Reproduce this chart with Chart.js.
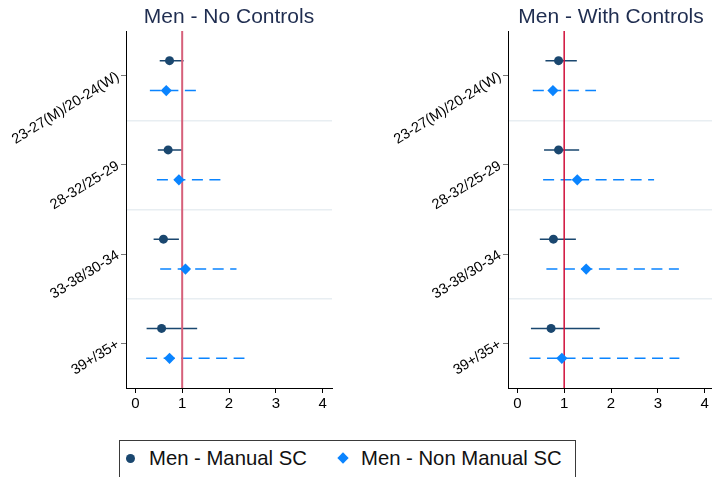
<!DOCTYPE html>
<html>
<head>
<meta charset="utf-8">
<script src="https://cdn.jsdelivr.net/npm/chart.js@4/dist/chart.umd.min.js"></script>
<style>
  html, body { margin: 0; padding: 0; background: #fff; }
  body { width: 712px; height: 477px; overflow: hidden; position: relative; font-family: 'Liberation Sans', Arial, sans-serif; }
  .panel { position: absolute; top: 0; width: 340px; height: 420px; }
  #legend { position: absolute; left: 119px; top: 440px; width: 457px; height: 40px; border: 1px solid #3a3a3a; box-sizing: border-box; background: #fff; }
  #legend .txt { position: absolute; top: 5px; font-size: 20.3px; line-height: 24px; color: #111; white-space: nowrap; }
  #legend .dot { position: absolute; left: 6px; top: 13px; width: 9px; height: 9px; border-radius: 50%; background: #1a476f; }
  #legend .dia { position: absolute; left: 219px; top: 13px; width: 8px; height: 8px; background: #0a84ff; transform: rotate(45deg); }
</style>
</head>
<body>
<div class="panel" style="left:0px"><canvas id="c1"></canvas></div>
<div class="panel" style="left:382px"><canvas id="c2"></canvas></div>
<div id="legend">
  <span class="dot"></span><span class="txt" style="left:29px">Men - Manual SC</span>
  <span class="dia"></span><span class="txt" style="left:241px">Men - Non Manual SC</span>
</div>
<script>
// Age groups (men / women)
const categories = ['23-27(M)/20-24(W)', '28-32/25-29', '33-38/30-34', '39+/35+'];
const xTicks = [0, 1, 2, 3, 4];

// Odds ratios and 95% confidence intervals, no controls
const noCtrlManual      = [0.73, 0.70, 0.60, 0.56];
const noCtrlManualLo    = [0.52, 0.48, 0.39, 0.24];
const noCtrlManualHi    = [1.03, 1.01, 0.93, 1.32];
const noCtrlNonManual   = [0.66, 0.93, 1.07, 0.73];
const noCtrlNonManualLo = [0.31, 0.46, 0.53, 0.23];
const noCtrlNonManualHi = [1.30, 1.82, 2.16, 2.33];

// Odds ratios and 95% confidence intervals, with controls
const ctrlManual      = [0.88, 0.88, 0.77, 0.72];
const ctrlManualLo    = [0.60, 0.57, 0.48, 0.29];
const ctrlManualHi    = [1.27, 1.32, 1.25, 1.76];
const ctrlNonManual   = [0.76, 1.28, 1.47, 0.95];
const ctrlNonManualLo = [0.33, 0.55, 0.62, 0.26];
const ctrlNonManualHi = [1.68, 2.92, 3.45, 3.46];

const refValue = 1;

Chart.defaults.font.family = "'Liberation Sans', Arial, sans-serif";
Chart.defaults.color = '#000';

const NAVY = '#1a476f';
const BLUE = '#0a84ff';
const SHIFT = 0.168; // vertical offset of each series within its band

function pts(vals, sign) {
  return vals.map((v, i) => ({ x: v, y: i + 0.5 + sign * SHIFT }));
}
function ciPts(lo, hi, sign) {
  const out = [];
  lo.forEach((l, i) => {
    const y = i + 0.5 + sign * SHIFT;
    out.push({ x: l, y: y }, { x: hi[i], y: y }, { x: null, y: null });
  });
  return out;
}

function makePanel(id, title, man, manLo, manHi, nm, nmLo, nmHi, refColor, refWidth) {
  new Chart(document.getElementById(id), {
    type: 'scatter',
    data: {
      datasets: [
        { data: pts(man, -1), pointStyle: 'circle', pointRadius: 4.5, backgroundColor: NAVY, borderColor: NAVY, borderWidth: 0, order: 0 },
        { data: pts(nm, 1), pointStyle: 'rectRot', pointRadius: 5.6, backgroundColor: BLUE, borderColor: BLUE, borderWidth: 0, order: 0 },
        { data: [{ x: refValue, y: 0 }, { x: refValue, y: 4 }], showLine: true, pointRadius: 0, borderColor: refColor, borderWidth: refWidth, order: 1 },
        { data: ciPts(manLo, manHi, -1), showLine: true, spanGaps: false, pointRadius: 0, borderColor: NAVY, borderWidth: 1.5, order: 2 },
        { data: ciPts(nmLo, nmHi, 1), showLine: true, spanGaps: false, pointRadius: 0, borderColor: BLUE, borderWidth: 1.5, borderDash: [11, 6.5], order: 2 }
      ]
    },
    options: {
      responsive: true,
      maintainAspectRatio: false,
      animation: false,
      layout: { padding: { left: 0, right: 8, top: 0, bottom: 0 } },
      plugins: {
        legend: { display: false },
        tooltip: { enabled: false }
      },
      scales: {
        // top axis carries only the panel title, centred over the plot area
        xTop: {
          type: 'linear', min: -0.2, max: 4.2, position: 'top',
          ticks: { display: false },
          grid: { display: false },
          border: { display: false },
          title: { display: true, text: title, color: '#1f2d50', font: { size: 21, weight: 'normal' }, padding: { top: 5, bottom: 2 } },
          afterFit: s => { s.height = 31; s.paddingLeft = 0; s.paddingRight = 0; }
        },
        x: {
          type: 'linear', min: -0.2, max: 4.2, position: 'bottom',
          afterBuildTicks: s => { s.ticks = xTicks.map(v => ({ value: v })); },
          ticks: { font: { size: 15 }, color: '#000', padding: 2 },
          grid: { drawOnChartArea: false, drawTicks: true, tickLength: 5, color: '#000', lineWidth: 1 },
          border: { display: true, color: '#000', width: 1 },
          afterFit: s => { s.height = 32; s.paddingLeft = 0; s.paddingRight = 0; }
        },
        y: {
          type: 'linear', min: 0, max: 4, reverse: true, position: 'left',
          afterBuildTicks: s => { s.ticks = categories.map((c, i) => ({ value: i + 0.5 })); },
          ticks: { font: { size: 14.5 }, color: '#000', minRotation: 32, maxRotation: 32, padding: 3,
                   callback: (v, i) => categories[i] },
          grid: { drawOnChartArea: false, drawTicks: true, tickLength: 5, color: '#777', lineWidth: 1 },
          border: { display: true, color: '#000', width: 1 },
          afterFit: s => { s.width = 126; s.paddingTop = 0; s.paddingBottom = 0; }
        },
        yBand: {
          type: 'linear', min: 0, max: 4, reverse: true, position: 'right',
          afterBuildTicks: s => { s.ticks = [1, 2, 3].map(v => ({ value: v })); },
          ticks: { display: false },
          grid: { drawOnChartArea: true, drawTicks: false, color: '#e8eef2', lineWidth: 1.5 },
          border: { display: false },
          afterFit: s => { s.width = 0; s.paddingTop = 0; s.paddingBottom = 0; }
        }
      }
    }
  });
}

makePanel('c1', 'Men - No Controls',
  noCtrlManual, noCtrlManualLo, noCtrlManualHi, noCtrlNonManual, noCtrlNonManualLo, noCtrlNonManualHi,
  '#d6607a', 2);
makePanel('c2', 'Men - With Controls',
  ctrlManual, ctrlManualLo, ctrlManualHi, ctrlNonManual, ctrlNonManualLo, ctrlNonManualHi,
  '#d0103a', 1.5);
</script>
</body>
</html>
